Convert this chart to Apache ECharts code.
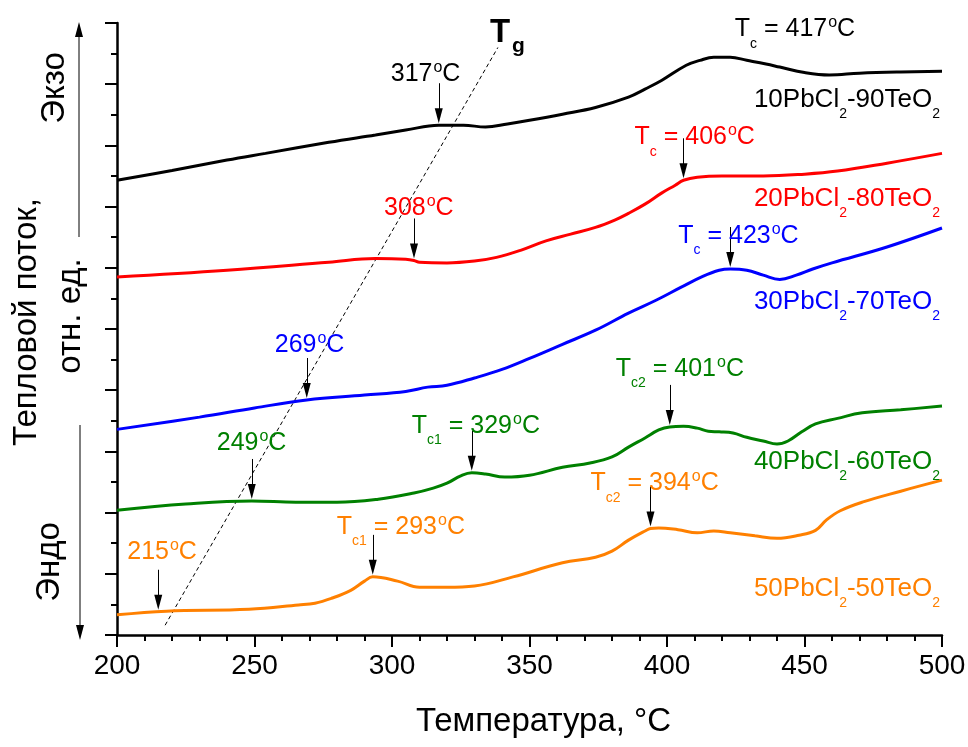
<!DOCTYPE html>
<html>
<head>
<meta charset="utf-8">
<script src="https://cdn.jsdelivr.net/npm/echarts/dist/echarts.min.js"></script>
<style>
  html, body { margin: 0; padding: 0; background: #ffffff; }
  #chart { width: 968px; height: 747px; }
</style>
</head>
<body>
<div id="chart"></div>
<script>
// DSC heating curves of xPbCl2-(100-x)TeO2 glasses.
// Each curve: [temperature, °C ; heat flow, arb. units (curves shifted vertically)]
const curve10 = [
  [200, 7.43], [220, 7.59], [240, 7.76], [254, 7.87], [277, 8.05], [294, 8.17],
  [305, 8.25], [317, 8.33], [326, 8.33], [334, 8.30], [342, 8.35], [350, 8.41],
  [362, 8.51], [374, 8.62], [386, 8.79], [392, 8.92], [398, 9.06], [407, 9.31],
  [412, 9.39], [417, 9.44], [423, 9.44], [429, 9.39], [436, 9.33], [441, 9.28],
  [450, 9.19], [459, 9.15], [470, 9.18], [485, 9.20], [500, 9.21]
];
const curve20 = [
  [200, 5.85], [240, 5.96], [277, 6.09], [294, 6.15], [305, 6.14], [308, 6.12],
  [310, 6.09], [320, 6.08], [330, 6.11], [338, 6.17], [347, 6.29], [356, 6.44],
  [365, 6.55], [374, 6.66], [381, 6.78], [386, 6.89], [392, 7.04], [398, 7.22],
  [403, 7.35], [406, 7.43], [411, 7.48], [420, 7.50], [435, 7.50], [450, 7.53],
  [462, 7.58], [480, 7.71], [500, 7.87]
];
const curve30 = [
  [200, 3.36], [230, 3.56], [250, 3.71], [269, 3.84], [290, 3.92], [305, 3.98],
  [313, 4.05], [320, 4.08], [330, 4.20], [340, 4.34], [350, 4.52], [362, 4.75],
  [374, 4.98], [386, 5.26], [396, 5.47], [405, 5.68], [413, 5.86], [419, 5.96],
  [423, 5.98], [429, 5.96], [435, 5.88], [441, 5.81], [447, 5.88], [453, 5.98],
  [460, 6.08], [480, 6.34], [500, 6.65]
];
const curve40 = [
  [200, 2.04], [225, 2.14], [249, 2.19], [265, 2.17], [280, 2.17], [295, 2.22],
  [308, 2.32], [315, 2.40], [320, 2.48], [325, 2.60], [329, 2.65], [334, 2.63],
  [341, 2.58], [350, 2.61], [362, 2.74], [372, 2.81], [380, 2.91], [386, 3.07],
  [392, 3.22], [397, 3.35], [401, 3.40], [406, 3.41], [411, 3.38], [415, 3.33],
  [419, 3.32], [424, 3.30], [429, 3.23], [435, 3.17], [440, 3.12], [444, 3.17],
  [449, 3.32], [454, 3.45], [462, 3.54], [471, 3.63], [485, 3.68], [500, 3.74]
];
const curve50 = [
  [200, 0.33], [218, 0.39], [248, 0.42], [266, 0.49], [272, 0.52], [278, 0.60],
  [285, 0.73], [290, 0.88], [293, 0.95], [302, 0.88], [310, 0.78], [320, 0.78],
  [330, 0.80], [344, 0.95], [362, 1.18], [374, 1.27], [380, 1.37], [386, 1.55],
  [392, 1.70], [394, 1.74], [397, 1.75], [404, 1.72], [411, 1.67], [417, 1.70],
  [423, 1.67], [432, 1.62], [440, 1.58], [448, 1.63], [454, 1.71], [458, 1.88],
  [463, 2.03], [471, 2.17], [485, 2.35], [500, 2.53]
];
const curves = [curve10, curve20, curve30, curve40, curve50];

// Compositions, mol.%
const pbcl2 = [10, 20, 30, 40, 50];
const teo2 = [90, 80, 70, 60, 50];
const colors = ['#000000', '#ff0000', '#0000ff', '#008000', '#ff8000'];

// Glass transition and crystallization temperatures, °C
const glassTemps = [317, 308, 269, 249, 215];
const crystTemps = [[417], [406], [423], [329, 401], [293, 394]];

// Guide line through the glass-transition points
const tgGuide = [[217.5, 0.16], [338.5, 9.6]];

// Axis ticks
const xTicks = { min: 200, max: 500, step: 50 };
const yTicks = { min: 0, max: 10, step: 1 };

// ---- layout (pixels) ----
const FONT = '"Liberation Sans", Arial, Helvetica, sans-serif';
const ARROW_LEN = 40, ARROW_GAP = 2, HEAD = [8, 15];
const BASE = 32; // distance from the top of a rich text block to the text baseline
const glassLabelOffset = [[-48, -1], [-30, -2], [-32, -5], [-35, -8], [-31, -10]];
const crystLabelOffset = [[[21, 22]], [[-49, 7]], [[-52, 17]], [[-60, 3], [-54, -8]], [[-36, 0], [-60, 5]]];
const nameBaseline = [108, 207, 310, 470, 597];

function valueAt(curve, t) {
  for (let i = 1; i < curve.length; i++) {
    if (t <= curve[i][0]) {
      const [t0, v0] = curve[i - 1], [t1, v1] = curve[i];
      return v0 + (v1 - v0) * (t - t0) / (t1 - t0);
    }
  }
  return curve[curve.length - 1][1];
}

// Rich text with superscript / subscript shifted by padding inside a 48px line
function richStyles(color, size) {
  return {
    m: { fontSize: size, fontFamily: FONT, fill: color, lineHeight: 48, verticalAlign: 'middle' },
    sup: { fontSize: 16, fontFamily: FONT, fill: color, lineHeight: 16, verticalAlign: 'middle', padding: [0, 0, 13, 1] },
    sub: { fontSize: 14, fontFamily: FONT, fill: color, lineHeight: 14, verticalAlign: 'middle', padding: [29, 0, 0, 0] }
  };
}

const chart = echarts.init(document.getElementById('chart'), null, { renderer: 'canvas' });

const baseOption = {
  animation: false,
  backgroundColor: '#ffffff',
  grid: { left: 117, right: 26, top: 23, bottom: 112, containLabel: false, outerBoundsMode: 'none' },
  xAxis: {
    type: 'value', min: xTicks.min, max: xTicks.max, interval: xTicks.step,
    name: 'Температура, °C', nameLocation: 'middle', nameGap: 70,
    nameTextStyle: { fontFamily: FONT, fontSize: 33, color: '#000', padding: [0, 0, 0, 28] },
    axisLine: { show: true, onZero: false, lineStyle: { color: '#000', width: 2.5 } },
    axisTick: { show: true, inside: false, length: 12, lineStyle: { color: '#000', width: 2 } },
    minorTick: { show: true, splitNumber: 5, length: 6, lineStyle: { color: '#000', width: 2 } },
    axisLabel: { show: true, margin: 17, fontFamily: FONT, fontSize: 28, color: '#000' },
    splitLine: { show: false }, minorSplitLine: { show: false }
  },
  yAxis: {
    type: 'value', min: yTicks.min, max: yTicks.max, interval: yTicks.step,
    axisLine: { show: true, onZero: false, lineStyle: { color: '#000', width: 2.5 } },
    axisTick: { show: true, inside: false, length: 12, lineStyle: { color: '#000', width: 2 } },
    minorTick: { show: true, splitNumber: 2, length: 6, lineStyle: { color: '#000', width: 2 } },
    axisLabel: { show: false },
    splitLine: { show: false }, minorSplitLine: { show: false }
  },
  series: curves.map((c, i) => ({
    type: 'line', name: pbcl2[i] + 'PbCl2-' + teo2[i] + 'TeO2',
    data: c, smooth: 0.4, showSymbol: false, symbol: 'none', silent: true,
    lineStyle: { color: colors[i], width: 3 }, z: 3
  })).concat([{
    type: 'line', name: 'Tg', data: tgGuide, showSymbol: false, symbol: 'none', silent: true,
    lineStyle: { color: '#000', width: 1, type: [4, 3] }, z: 2
  }])
};
chart.setOption(baseOption);

const toPx = (x, y) => chart.convertToPixel({ gridIndex: 0 }, [x, y]);
const pxPerUnit = toPx(200, 0)[1] - toPx(200, 1)[1];
const upp = 1 / pxPerUnit;

const graphics = [];
const seriesUpdate = curves.map((c, i) => {
  const marks = [glassTemps[i]].concat(crystTemps[i]);
  const offsets = [glassLabelOffset[i]].concat(crystLabelOffset[i]);
  const lines = marks.map(t => {
    const v = valueAt(c, t);
    const tipV = v + ARROW_GAP * upp;
    return [
      { coord: [t, tipV + ARROW_LEN * upp], symbol: 'none' },
      { coord: [t, tipV + (HEAD[1] / 2) * upp], symbol: 'triangle', symbolSize: HEAD }
    ];
  });
  marks.forEach((t, k) => {
    const v = valueAt(c, t);
    const top = toPx(t, v + (ARROW_GAP + ARROW_LEN) * upp);
    let text;
    if (k === 0) {
      text = '{m|' + t + '}{sup|o}{m|C}';
    } else {
      const idx = crystTemps[i].length > 1 ? String(k) : '';
      text = '{m|T}{sub|c' + idx + '}{m| = ' + t + '}{sup|o}{m|C}';
    }
    graphics.push({
      type: 'text', silent: true, z: 10,
      x: top[0] + offsets[k][0], y: top[1] + offsets[k][1] - BASE,
      style: { text, rich: richStyles(colors[i], 25), align: 'left', verticalAlign: 'top' }
    });
  });
  // composition label under the right end of each curve
  const endPx = toPx(xTicks.max, c[c.length - 1][1]);
  graphics.push({
    type: 'text', silent: true, z: 10,
    x: endPx[0] - 2, y: nameBaseline[i] - BASE,
    style: {
      text: '{m|' + pbcl2[i] + 'PbCl}{sub|2}{m|-' + teo2[i] + 'TeO}{sub|2}',
      rich: richStyles(colors[i], 26), align: 'right', verticalAlign: 'top'
    }
  });
  return {
    markLine: {
      silent: true, animation: false, symbol: ['none', 'triangle'],
      label: { show: false }, emphasis: { disabled: true },
      lineStyle: { color: '#000', width: 1, type: 'solid' },
      itemStyle: { color: '#000' },
      data: lines
    }
  };
});

// Tg caption at the upper end of the guide line
const tgTop = toPx(tgGuide[1][0], tgGuide[1][1]);
graphics.push({
  type: 'text', silent: true, z: 10,
  x: tgTop[0] - 8, y: tgTop[1] - 5 - 34,
  style: {
    text: '{T|T}{g|g}',
    rich: {
      T: { fontSize: 33, fontWeight: 'bold', fontFamily: FONT, fill: '#000', lineHeight: 48, verticalAlign: 'middle' },
      g: { fontSize: 21, fontWeight: 'bold', fontFamily: FONT, fill: '#000', lineHeight: 21, verticalAlign: 'middle', padding: [27, 0, 0, 2] }
    },
    align: 'left', verticalAlign: 'top'
  }
});

// Y axis caption and exo/endo direction arrows
const axisX = toPx(xTicks.min, 0)[0];
const yTitle = (text, x, y) => ({
  type: 'text', silent: true, x, y, rotation: Math.PI / 2,
  style: { text, fontFamily: FONT, fontSize: 33, fill: '#000', align: 'center', verticalAlign: 'middle' }
});
graphics.push(yTitle('Тепловой поток,', axisX - 90, 322));
graphics.push(yTitle('отн. ед.', axisX - 46, 316));
graphics.push(yTitle('Экзо', axisX - 62, 88));
graphics.push(yTitle('Эндо', axisX - 67, 562));
const upX = axisX - 38, downX = axisX - 37;
graphics.push({ type: 'line', silent: true, shape: { x1: upX, y1: 237, x2: upX, y2: 34 }, style: { stroke: '#000', lineWidth: 1 } });
graphics.push({ type: 'polygon', silent: true, shape: { points: [[upX - 4, 37], [upX + 4, 37], [upX, 22]] }, style: { fill: '#000' } });
graphics.push({ type: 'line', silent: true, shape: { x1: downX, y1: 425, x2: downX, y2: 628 }, style: { stroke: '#000', lineWidth: 1 } });
graphics.push({ type: 'polygon', silent: true, shape: { points: [[downX - 4, 625], [downX + 4, 625], [downX, 640]] }, style: { fill: '#000' } });

chart.setOption({ series: seriesUpdate, graphic: graphics });
</script>
</body>
</html>
